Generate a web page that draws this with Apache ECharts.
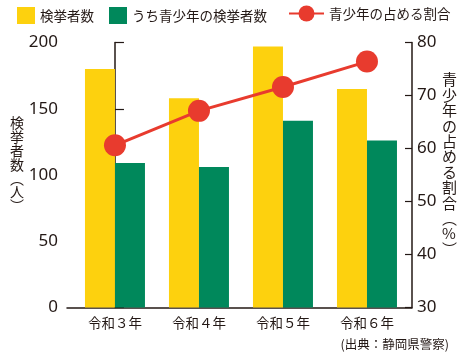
<!DOCTYPE html>
<html>
<head>
<meta charset="utf-8">
<script src="https://cdn.jsdelivr.net/npm/echarts@6/dist/echarts.min.js"></script>
<style>
html,body{margin:0;padding:0;background:#fff;}
#c{width:470px;height:356px;}
</style>
</head>
<body>
<div id="c"></div>
<script>
var categories = ['令和３年', '令和４年', '令和５年', '令和６年'];
var arrests = [180, 158, 197, 165];
var youthArrests = [109, 106, 141, 126];
var youthShare = [60.6, 67.1, 71.6, 76.4];
var leftTicks = { min: 0, max: 200, interval: 50 };
var rightTicks = { min: 30, max: 80, interval: 10 };
var seriesNames = ['検挙者数', 'うち青少年の検挙者数', '青少年の占める割合'];

var TXT = '#231815';
var FONT = '"Noto Sans", "Noto Sans CJK JP", sans-serif';
var JFONT = '"Noto Sans CJK JP", sans-serif';

function pts(arr) { return arr.map(function (v, i) { return [i, v]; }); }

var chart = echarts.init(document.getElementById('c'), null, { renderer: 'canvas' });
chart.setOption({
  animation: false,
  backgroundColor: '#fff',
  textStyle: { fontFamily: FONT, color: TXT },
  grid: { left: 67, right: 58, top: 42.5, bottom: 48.5, containLabel: false },
  legend: [
    {
      data: [seriesNames[0], seriesNames[1]],
      left: 17, top: 7, padding: 0,
      itemWidth: 18, itemHeight: 17, itemGap: 15, itemTextGap: 8,
      icon: 'rect',
      textStyle: { fontFamily: JFONT, fontSize: 13.5, color: TXT }
    },
    {
      data: [seriesNames[2]],
      left: 288, top: 5.5, padding: 0,
      itemWidth: 35, itemHeight: 20, itemTextGap: 5,
      textStyle: { fontFamily: JFONT, fontSize: 13.5, color: TXT }
    }
  ],
  xAxis: {
    type: 'value',
    min: -0.571, max: 3.536,
    splitLine: { show: false },
    axisTick: { show: false },
    axisLine: { show: true, onZero: false, lineStyle: { color: TXT, width: 1.5 } },
    axisLabel: {
      customValues: [0, 1, 2, 3],
      formatter: function (v) { return categories[Math.round(v)]; },
      fontFamily: JFONT, fontSize: 13.5, color: TXT, margin: 9
    }
  },
  yAxis: [
    {
      type: 'value', min: leftTicks.min, max: leftTicks.max, interval: leftTicks.interval,
      splitLine: { show: false },
      axisLine: { show: true, lineStyle: { color: TXT, width: 1.5 } },
      axisTick: { show: true, inside: true, length: 9, lineStyle: { color: TXT, width: 1.2 } },
      axisLabel: { fontFamily: FONT, fontSize: 17, color: TXT, margin: 9 }
    },
    {
      type: 'value', min: rightTicks.min, max: rightTicks.max, interval: rightTicks.interval,
      position: 'right',
      splitLine: { show: false },
      axisLine: { show: true, lineStyle: { color: TXT, width: 1.5 } },
      axisTick: { show: true, inside: true, length: 7, lineStyle: { color: TXT, width: 1.2 } },
      axisLabel: { fontFamily: FONT, fontSize: 17, color: TXT, margin: 5 }
    }
  ],
  series: [
    {
      name: seriesNames[0], type: 'bar', data: pts(arrests),
      barWidth: 30, barGap: '0%',
      itemStyle: { color: '#FDD10E' }
    },
    {
      name: seriesNames[1], type: 'bar', data: pts(youthArrests),
      barWidth: 30, barGap: '0%',
      itemStyle: { color: '#00885B' }
    },
    {
      name: seriesNames[2], type: 'line', yAxisIndex: 1, data: pts(youthShare),
      symbol: 'circle', symbolSize: 22, z: 5,
      lineStyle: { color: '#E83B2E', width: 3 },
      itemStyle: { color: '#E83B2E' }
    }
  ],
  graphic: [
    {
      type: 'text', left: 10, top: 116,
      style: {
        text: '検\n挙\n者\n数\n︵\n人\n︶',
        fontFamily: JFONT, fontSize: 14, lineHeight: 13.8, fill: TXT, textAlign: 'left'
      }
    },
    {
      type: 'text', left: 442, top: 72,
      style: {
        text: '青\n少\n年\nの\n占\nめ\nる\n割\n合\n︵\n%\n︶',
        fontFamily: JFONT, fontSize: 15, lineHeight: 15.4, fill: TXT, textAlign: 'left'
      }
    },
    {
      type: 'text', right: 21, top: 338,
      style: {
        text: '(出典：静岡県警察)',
        fontFamily: JFONT, fontSize: 12.5, fill: TXT
      }
    }
  ]
});
</script>
</body>
</html>
